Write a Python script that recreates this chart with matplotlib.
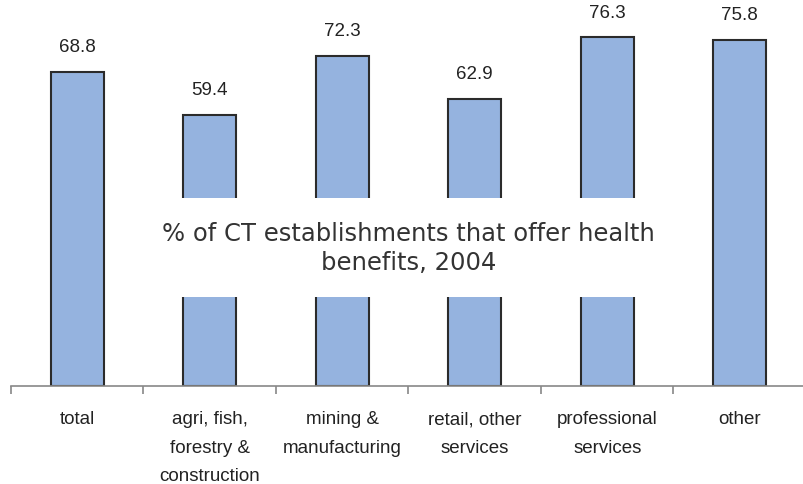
import matplotlib.pyplot as plt

categories = ['total', 'agri, fish,\nforestry &\nconstruction', 'mining &\nmanufacturing',
              'retail, other\nservices', 'professional\nservices', 'other']
values = [68.8, 59.4, 72.3, 62.9, 76.3, 75.8]
title = '% of CT establishments that offer health\nbenefits, 2004'

fig = plt.figure(figsize=(8.04, 4.85), dpi=100)
ax = fig.add_axes([11 / 804, 1 - 387 / 485, 795 / 804, 387 / 485])

x = list(range(len(values)))
bars = ax.bar(x, values, width=0.4, color='#95B3DF', edgecolor='#2b2b2b', linewidth=1.5, zorder=2)

for xi, v in zip(x, values):
    ax.annotate(f'{v:.1f}', (xi, v), xytext=(0, 12), textcoords='offset points',
                ha='center', va='bottom', fontsize=13.5, family='Liberation Sans', color='#222222')

ax.set_xlim(-0.5, len(values) - 0.5)
ax.set_ylim(0, 387 / 4.57)

for s in ['top', 'right', 'left']:
    ax.spines[s].set_visible(False)
ax.spines['bottom'].set_color('#888888')
ax.spines['bottom'].set_linewidth(1.2)
ax.set_yticks([])

ax.set_xticks([i - 0.5 for i in range(len(values) + 1)])
ax.set_xticklabels([])
ax.set_xticks(x, minor=True)
ax.set_xticklabels(categories, minor=True, fontsize=13.5, family='Liberation Sans',
                   color='#222222', linespacing=1.88)
ax.tick_params(axis='x', which='major', length=6, color='#888888', width=1.2)
ax.tick_params(axis='x', which='minor', length=0, pad=17.5)
for lbl in ax.get_xticklabels(minor=True):
    lbl.set_verticalalignment('top')

ax.text(0.5, 0.358, title, transform=ax.transAxes, ha='center', va='center',
        fontsize=17.5, family='DejaVu Sans', color='#333333', linespacing=1.28, zorder=5,
        bbox=dict(boxstyle='square,pad=0.95', facecolor='white', edgecolor='none'))

fig.savefig('out.png', dpi=100)
